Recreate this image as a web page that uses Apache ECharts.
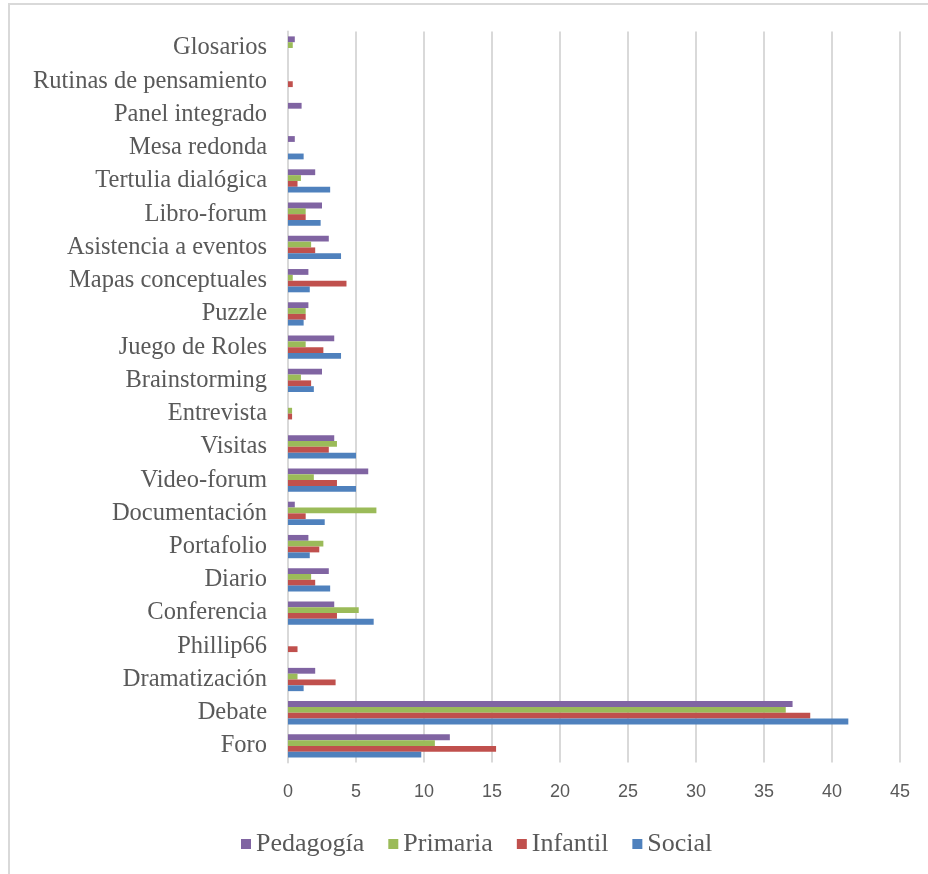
<!DOCTYPE html>
<html>
<head>
<meta charset="utf-8">
<script src="https://cdn.jsdelivr.net/npm/echarts@6/dist/echarts.min.js"></script>
<style>
  html, body { margin: 0; padding: 0; background: #ffffff; }
  #chart { width: 928px; height: 874px; }
</style>
</head>
<body>
<div id="chart"></div>
<script>
// Activities, listed from the bottom of the axis upwards
const categories = [
  'Foro', 'Debate', 'Dramatización', 'Phillip66', 'Conferencia', 'Diario',
  'Portafolio', 'Documentación', 'Video-forum', 'Visitas', 'Entrevista',
  'Brainstorming', 'Juego de Roles', 'Puzzle', 'Mapas conceptuales',
  'Asistencia a eventos', 'Libro-forum', 'Tertulia dialógica', 'Mesa redonda',
  'Panel integrado', 'Rutinas de pensamiento', 'Glosarios'
];

const pedagogia = [11.9, 37.1, 2.0, 0, 3.4, 3.0, 1.5, 0.5, 5.9, 3.4, 0,
  2.5, 3.4, 1.5, 1.5, 3.0, 2.5, 2.0, 0.5, 1.0, 0, 0.5];
const primaria = [10.8, 36.6, 0.7, 0, 5.2, 1.7, 2.6, 6.5, 1.9, 3.6, 0.3,
  0.95, 1.3, 1.3, 0.35, 1.7, 1.3, 0.95, 0, 0, 0, 0.35];
const infantil = [15.3, 38.4, 3.5, 0.7, 3.6, 2.0, 2.3, 1.3, 3.6, 3.0, 0.3,
  1.7, 2.6, 1.3, 4.3, 2.0, 1.3, 0.7, 0, 0, 0.35, 0];
const social = [9.8, 41.2, 1.15, 0, 6.3, 3.1, 1.6, 2.7, 5.0, 5.0, 0,
  1.9, 3.9, 1.15, 1.6, 3.9, 2.4, 3.1, 1.15, 0, 0, 0];

const xTicks = { min: 0, max: 45, interval: 5 };

const seriesDefs = [
  { name: 'Pedagogía', data: pedagogia, color: '#8064A2' },
  { name: 'Primaria', data: primaria, color: '#9BBB59' },
  { name: 'Infantil', data: infantil, color: '#C0504D' },
  { name: 'Social', data: social, color: '#4F81BD' }
];

const chart = echarts.init(document.getElementById('chart'), null, { renderer: 'canvas' });

chart.setOption({
  animation: false,
  backgroundColor: '#ffffff',
  graphic: [{
    type: 'rect',
    shape: { x: 9, y: 4, width: 1000, height: 1000 },
    style: { fill: 'none', stroke: '#d9d9d9', lineWidth: 2 },
    silent: true
  }],
  grid: { left: 288, right: 28, top: 31.4, bottom: 111.4, containLabel: false },
  legend: {
    data: seriesDefs.map(s => s.name),
    left: 236,
    top: 826,
    icon: 'rect',
    itemWidth: 10,
    itemHeight: 10,
    itemGap: 24,
    textStyle: { fontFamily: 'Liberation Serif', fontSize: 26, color: '#595959' }
  },
  xAxis: {
    type: 'value',
    min: xTicks.min,
    max: xTicks.max,
    interval: xTicks.interval,
    axisLine: { show: false },
    axisTick: { show: false },
    splitLine: { show: true, lineStyle: { color: '#d9d9d9', width: 2 } },
    axisLabel: { color: '#595959', fontFamily: 'Liberation Sans', fontSize: 18, margin: 20 }
  },
  yAxis: {
    type: 'category',
    data: categories,
    axisLine: { show: true, lineStyle: { color: '#d9d9d9', width: 2 } },
    axisTick: { show: false },
    splitLine: { show: false },
    axisLabel: { color: '#595959', fontFamily: 'Liberation Serif', fontSize: 24.5, margin: 21, interval: 0 }
  },
  series: seriesDefs.map(s => ({
    name: s.name,
    type: 'bar',
    data: s.data,
    barGap: '0%',
    barCategoryGap: '30%',
    itemStyle: { color: s.color },
    emphasis: { disabled: true }
  }))
});
</script>
</body>
</html>
